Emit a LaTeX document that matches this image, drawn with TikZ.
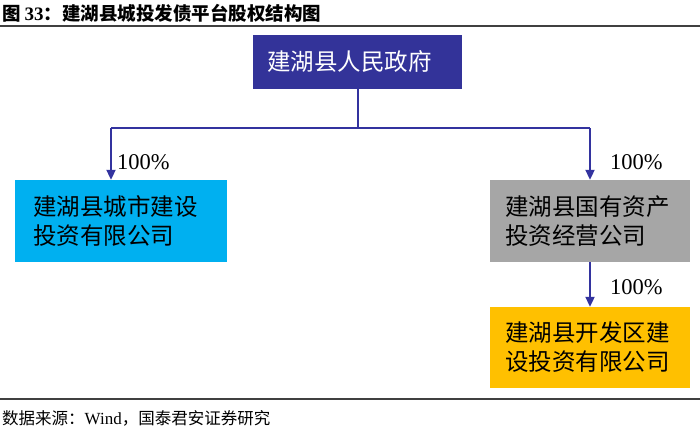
\documentclass[tikz,border=0pt]{standalone}
\usepackage{fontspec}
\setmainfont{Liberation Serif}
\newfontfamily\cjk{Noto Sans CJK SC}
\usetikzlibrary{arrows.meta}
\definecolor{govblue}{HTML}{333399}
\definecolor{linkblue}{HTML}{33339F}
\definecolor{cyanbox}{HTML}{00B0F0}
\definecolor{graybox}{HTML}{A6A6A6}
\definecolor{yellowbox}{HTML}{FFC000}
\definecolor{rulegray}{HTML}{404040}
\tikzset{
  orgbox/.style={draw=none, inner sep=0pt, font=\cjk\fontsize{23.5}{29}\selectfont, align=left},
  link/.style={draw=linkblue, line width=2pt},
  linkarrow/.style={link, -{Triangle[length=10pt,width=9pt]}},
  pct/.style={font=\fontsize{22.5}{24}\selectfont, inner sep=0pt, anchor=west},
  rulebar/.style={draw=rulegray, line width=2pt}
}
\begin{document}
\begin{tikzpicture}[x=1pt,y=-1pt]
\useasboundingbox (0,0) rectangle (700,432);
% title
\node[anchor=base west, inner sep=0pt] (title) at (2,20)
  {{\cjk\bfseries\fontsize{18.5}{20}\selectfont 图}\hspace{4pt}{\bfseries\fontsize{19}{20}\selectfont 33}{\cjk\bfseries\fontsize{18.5}{20}\selectfont ：建湖县城投发债平台股权结构图}};
\coordinate (tl) at (0,25.5);
\coordinate (tr) at (700,25.5);
\draw[rulebar] (tl) -- (tr);
% boxes
\node[orgbox, fill=govblue, text=white, minimum width=209pt, minimum height=54pt, text width=181pt] (gov) at (357.5,62) {建湖县人民政府};
\node[orgbox, fill=cyanbox, text=black, minimum width=212pt, minimum height=82pt, text width=176pt] (city) at (121,221) {建湖县城市建设\\投资有限公司};
\node[orgbox, fill=graybox, text=black, minimum width=200pt, minimum height=82pt, text width=170pt] (asset) at (590,221) {建湖县国有资产\\投资经营公司};
\node[orgbox, fill=yellowbox, text=black, minimum width=200pt, minimum height=81pt, text width=170pt] (dev) at (590,347.5) {建湖县开发区建\\设投资有限公司};
% connectors
\coordinate (j) at (357.5,128);
\coordinate (jl) at (111,128);
\coordinate (jr) at (590,128);
\draw[link] (gov.south) -- (j);
\draw[link] (jl) -- (jr);
\draw[linkarrow] (jl) -- (jl |- city.north);
\draw[linkarrow] (jr) -- (asset.north);
\draw[linkarrow] (asset.south) -- (dev.north);
% labels
\node[pct] (p1) at (117,162) {100\%};
\node[pct] (p2) at (610,162) {100\%};
\node[pct] (p3) at (610,287) {100\%};
% footer
\coordinate (bl) at (0,399);
\coordinate (br) at (700,399);
\draw[rulebar] (bl) -- (br);
\node[anchor=base west, inner sep=0pt] (src) at (2,424)
  {{\cjk\fontsize{16.5}{18}\selectfont 数据来源：}{\fontsize{17}{18}\selectfont Wind}{\cjk\fontsize{16.5}{18}\selectfont ，国泰君安证券研究}};
\end{tikzpicture}
\end{document}
